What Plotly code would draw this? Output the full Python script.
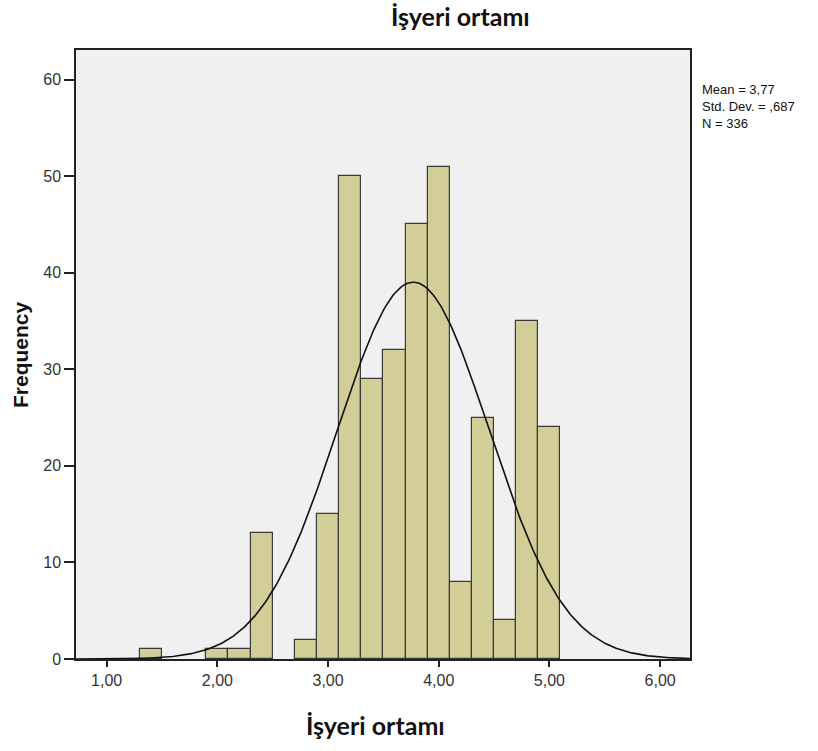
import numpy as np
import plotly.graph_objects as go

# Histogram bins (left edges, width 0.2) and frequencies
bin_left = [1.3, 1.9, 2.1, 2.3, 2.7, 2.9, 3.1, 3.3, 3.5, 3.7, 3.9, 4.1, 4.3, 4.5, 4.7, 4.9]
freq =     [1,   1,   1,   13,  2,   15,  50,  29,  32,  45,  51,  8,   25,  4,   35,  24]
bin_width = 0.2

mean_val = 3.77
sd_val = 0.687
n_val = 336

x_ticks = [1, 2, 3, 4, 5, 6]
x_tick_labels = ["1,00", "2,00", "3,00", "4,00", "5,00", "6,00"]
y_ticks = [0, 10, 20, 30, 40, 50, 60]

stats_lines = ["Mean = 3,77", "Std. Dev. = ,687", "N = 336"]
title_text = "İşyeri ortamı"
x_title = "İşyeri ortamı"
y_title = "Frequency"

W, H = 818, 751
L, R, T, B = 76, 690, 50, 659          # plot area in page pixels
X_RANGE = [0.723, 6.27]
Y_RANGE = [0, 63.07]

centers = [b + bin_width / 2 for b in bin_left]

xs = np.linspace(X_RANGE[0], X_RANGE[1], 400)
curve = n_val * bin_width * np.exp(-0.5 * ((xs - mean_val) / sd_val) ** 2) / (sd_val * np.sqrt(2 * np.pi))

fig = go.Figure()
fig.add_trace(go.Bar(
    x=centers, y=freq, width=bin_width,
    marker=dict(color="#D3CE97", line=dict(color="#3a3a3a", width=1.2)),
    hoverinfo="x+y", showlegend=False,
))
fig.add_trace(go.Scatter(
    x=xs, y=curve, mode="lines",
    line=dict(color="#111111", width=1.6), showlegend=False, hoverinfo="skip",
))

pw = R - L
ph = B - T

def px(xp):
    return (xp - L) / pw

def py(yp):
    return (B - yp) / ph

annotations = [
    dict(text="<b>%s</b>" % title_text, x=px(461), y=py(16), xref="paper", yref="paper",
         showarrow=False, xanchor="center", yanchor="middle",
         font=dict(family="Lato", size=25, color="#111111")),
    dict(text="<b>%s</b>" % x_title, x=px(375), y=py(725), xref="paper", yref="paper",
         showarrow=False, xanchor="center", yanchor="middle",
         font=dict(family="Lato", size=25, color="#111111")),
    dict(text="<b>%s</b>" % y_title, x=px(21), y=py(355), xref="paper", yref="paper",
         showarrow=False, xanchor="center", yanchor="middle", textangle=-90,
         font=dict(family="Arial, Liberation Sans", size=21, color="#111111")),
    dict(text="<br>".join(stats_lines), x=px(700), y=py(80), xref="paper", yref="paper",
         showarrow=False, xanchor="left", yanchor="top", align="left",
         font=dict(family="Arial, Liberation Sans", size=13, color="#111111")),
]

fig.update_layout(
    width=W, height=H, autosize=False,
    margin=dict(l=L, r=W - R, t=T, b=H - B, pad=0),
    paper_bgcolor="white", plot_bgcolor="#F0F0F0",
    bargap=0,
    annotations=annotations,
    xaxis=dict(range=X_RANGE, tickvals=x_ticks, ticktext=x_tick_labels,
               ticks="outside", ticklen=6, tickwidth=1.5, tickcolor="#222",
               showline=True, linecolor="#222", linewidth=1.5, mirror=True,
               showgrid=False, zeroline=False,
               tickfont=dict(family="Arial, Liberation Sans", size=16, color="#333333")),
    yaxis=dict(range=Y_RANGE, tickvals=y_ticks,
               ticks="outside", ticklen=10, tickwidth=1.5, tickcolor="#222",
               showline=True, linecolor="#222", linewidth=1.5, mirror=True,
               showgrid=False, zeroline=False,
               tickfont=dict(family="Arial, Liberation Sans", size=16, color="#333333")),
)

fig.write_html("out.html", config={"displayModeBar": False},
               post_script="document.body.style.margin='0';")
